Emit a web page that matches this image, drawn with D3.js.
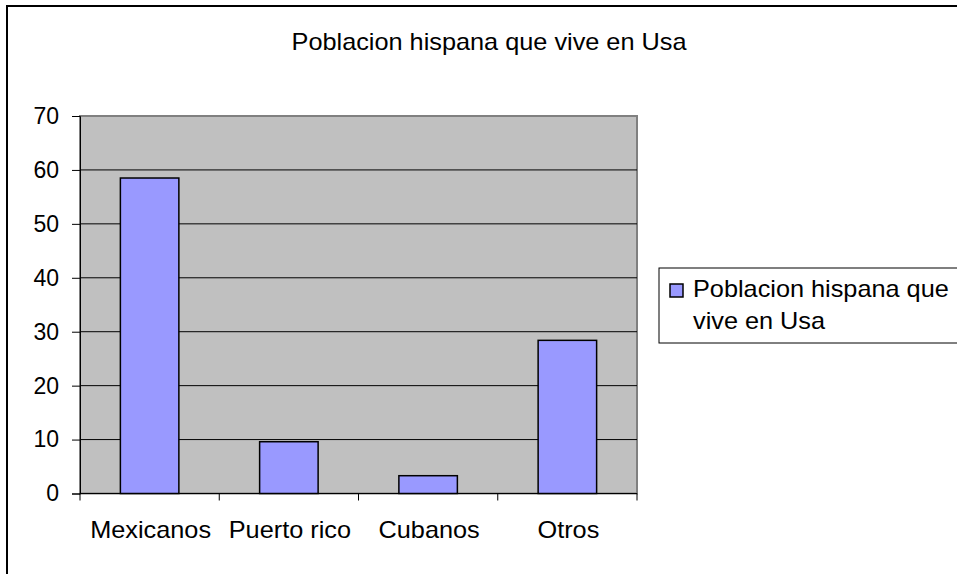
<!DOCTYPE html>
<html>
<head>
<meta charset="utf-8">
<script src="https://cdn.jsdelivr.net/npm/d3@7"></script>
<style>
  html, body { margin: 0; padding: 0; background: #fff; overflow: hidden; }
  svg { display: block; font-family: "Liberation Sans", Arial, sans-serif; }
</style>
</head>
<body>
<svg id="chart" width="957" height="574"></svg>
<script>
// Data
const categories = ["Mexicanos", "Puerto rico", "Cubanos", "Otros"];
const values = [58.5, 9.6, 3.3, 28.4];
const yTicks = [0, 10, 20, 30, 40, 50, 60, 70];
const chartTitle = "Poblacion hispana que vive en Usa";
const legendLines = ["Poblacion hispana que", "vive en Usa"];

const svg = d3.select("#chart");
const FONT_SIZE = 23;
const STRETCH = 1.1; // slightly wide lettering

// Place a horizontally widened text label at (x, y)
function wideText(parent, x, y, str, anchor) {
  parent.append("g")
    .attr("transform", `translate(${x},${y}) scale(${STRETCH},1)`)
    .append("text")
    .attr("text-anchor", anchor)
    .attr("fill", "#000")
    .style("font-size", FONT_SIZE + "px")
    .text(str);
}

// Outer chart frame (extends past the right and bottom edges)
svg.append("rect")
  .attr("x", 7).attr("y", 6)
  .attr("width", 1000).attr("height", 700)
  .attr("fill", "#fff")
  .attr("stroke", "#000").attr("stroke-width", 2);

const plot = { left: 80, top: 116, right: 637, bottom: 493.5 };

const x = d3.scaleBand()
  .domain(categories)
  .range([plot.left, plot.right])
  .paddingInner(0.58)
  .paddingOuter(0.29);

const y = d3.scaleLinear()
  .domain([0, 70])
  .range([plot.bottom, plot.top]);

// Plot area background
svg.append("rect")
  .attr("x", plot.left).attr("y", plot.top)
  .attr("width", plot.right - plot.left)
  .attr("height", plot.bottom - plot.top)
  .attr("fill", "#C0C0C0")
  .attr("stroke", "#808080").attr("stroke-width", 2);

// Horizontal gridlines
svg.append("g")
  .selectAll("line")
  .data(yTicks.filter(d => d > 0 && d < 70))
  .join("line")
  .attr("x1", plot.left).attr("x2", plot.right)
  .attr("y1", d => y(d)).attr("y2", d => y(d))
  .attr("stroke", "#000").attr("stroke-width", 1);

// Bars
svg.append("g")
  .selectAll("rect")
  .data(values)
  .join("rect")
  .attr("x", (d, i) => x(categories[i]))
  .attr("y", d => y(d))
  .attr("width", x.bandwidth())
  .attr("height", d => y(0) - y(d))
  .attr("fill", "#9999FF")
  .attr("stroke", "#000").attr("stroke-width", 1.5);

// Y axis
const yAxis = d3.axisLeft(y)
  .tickValues(yTicks)
  .tickSize(8)
  .tickPadding(13)
  .tickFormat(d3.format("d"));
const gy = svg.append("g")
  .attr("transform", `translate(${plot.left},0)`)
  .call(yAxis);
gy.select(".domain").attr("stroke", "#000").attr("stroke-width", 1);
gy.selectAll(".tick line").attr("stroke", "#000");
gy.selectAll(".tick text")
  .attr("fill", "#000")
  .style("font-size", FONT_SIZE + "px")
  .style("font-family", "Liberation Sans, Arial, sans-serif");

// X axis: baseline with tick marks at category boundaries
svg.append("line")
  .attr("x1", plot.left).attr("x2", plot.right)
  .attr("y1", y(0)).attr("y2", y(0))
  .attr("stroke", "#000").attr("stroke-width", 1);

const boundaries = d3.range(categories.length + 1)
  .map(i => plot.left + i * (plot.right - plot.left) / categories.length);
svg.append("g")
  .selectAll("line")
  .data(boundaries)
  .join("line")
  .attr("x1", d => d).attr("x2", d => d)
  .attr("y1", y(0)).attr("y2", y(0) + 7)
  .attr("stroke", "#000").attr("stroke-width", 1);

const gx = svg.append("g");
categories.forEach(c => wideText(gx, x(c) + x.bandwidth() / 2 + 1, 538, c, "middle"));

// Title
wideText(svg, 489, 50, chartTitle, "middle");

// Legend
const lg = svg.append("g");
lg.append("rect")
  .attr("x", 659).attr("y", 268)
  .attr("width", 400).attr("height", 75)
  .attr("fill", "#fff")
  .attr("stroke", "#000").attr("stroke-width", 1);
lg.append("rect")
  .attr("x", 670).attr("y", 284)
  .attr("width", 13).attr("height", 13)
  .attr("fill", "#9999FF")
  .attr("stroke", "#000").attr("stroke-width", 1.5);
legendLines.forEach((t, i) => wideText(lg, 693, 297 + i * 32, t, "start"));
</script>
</body>
</html>
